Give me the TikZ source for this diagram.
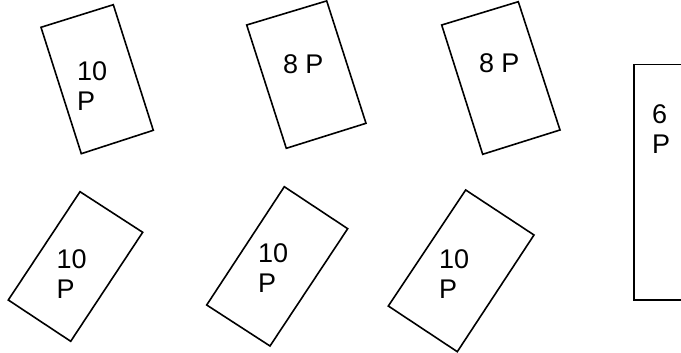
\documentclass[tikz,border=0pt]{standalone}
\usepackage{fontspec}
\setmainfont{Liberation Sans}
\begin{document}
\begin{tikzpicture}[x=1pt,y=-1pt,
  box/.style={draw=black,line width=1.6pt,line join=miter},
  lbl/.style={inner sep=0pt,outer sep=0pt,anchor=north west,align=left,
    font=\fontsize{27pt}{30pt}\selectfont}]
\useasboundingbox (0,0) rectangle (681,353);
\clip (0,0) rectangle (681,353);
% top row
\draw[box] (41,27.3) -- (113.3,4.7) -- (153.3,130.3) -- (81.3,153.7) -- cycle;
\node[lbl] (t1) at (77.2,61.7) {10\\P};
\draw[box] (246.7,25) -- (326.7,0.9) -- (366,123.3) -- (286.3,148.3) -- cycle;
\node[lbl] (t2) at (283,54.3) {8 P};
\draw[box] (441.7,25) -- (518.3,1.7) -- (560,130) -- (482.7,154.3) -- cycle;
\node[lbl] (t3) at (479,53.5) {8 P};
% bottom row
\draw[box] (80,191.7) -- (142.7,232.3) -- (70.7,341.3) -- (8.3,300) -- cycle;
\node[lbl] (t4) at (56.5,249.5) {10\\P};
\draw[box] (284.3,186.7) -- (347.7,228.7) -- (270,346) -- (206.7,305) -- cycle;
\node[lbl] (t5) at (258,244) {10\\P};
\draw[box] (465.7,190) -- (534,235) -- (457.3,351.7) -- (388.3,306) -- cycle;
\node[lbl] (t7) at (439,249.3) {10\\P};
% right box, cut by the edge
\draw[box] (690,64.5) -- (633.8,64.5) -- (633.8,300) -- (690,300);
\node[lbl] (t6) at (652,104.3) {6\\P};
\end{tikzpicture}
\end{document}
